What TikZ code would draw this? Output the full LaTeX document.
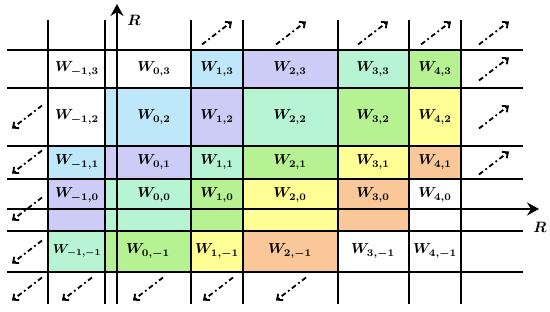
\documentclass[tikz,border=0pt]{standalone}
\usetikzlibrary{arrows.meta}
\definecolor{cblue}{RGB}{190,232,250}
\definecolor{cpurp}{RGB}{204,204,246}
\definecolor{cmint}{RGB}{182,244,212}
\definecolor{cgreen}{RGB}{182,242,146}
\definecolor{cyell}{RGB}{255,255,150}
\definecolor{corng}{RGB}{250,200,152}
\tikzset{
  gridline/.style={line width=1.7pt, black},
  axisline/.style={line width=1.7pt, black, -{Stealth[length=12pt,width=13pt,inset=4pt]}},
  darr/.style={line width=1.8pt, dash pattern=on 5pt off 3pt on 1.8pt off 3pt, -{Straight Barb[length=4.5pt,width=8pt]}},
  lblbase/.style={font=\boldmath, inner sep=0pt},
  lbl/.style={lblbase, scale=1.45},
}
\begin{document}
\begin{tikzpicture}[x=1pt,y=-1pt]
\useasboundingbox (0,0) rectangle (550,312);
% row 3
\fill[cblue]  (191,50) rectangle (243,88);
\fill[cpurp]  (243,50) rectangle (338,88);
\fill[cmint]  (338,50) rectangle (409,88);
\fill[cgreen] (409,50) rectangle (461,88);
% row 2
\fill[cblue]  (105,88) rectangle (191,146);
\fill[cpurp]  (191,88) rectangle (243,146);
\fill[cmint]  (243,88) rectangle (338,146);
\fill[cgreen] (338,88) rectangle (409,146);
\fill[cyell]  (409,88) rectangle (461,146);
% row 1
\fill[cblue]  (48,146) rectangle (105,179);
\fill[cpurp]  (105,146) rectangle (191,179);
\fill[cmint]  (191,146) rectangle (243,179);
\fill[cgreen] (243,146) rectangle (338,179);
\fill[cyell]  (338,146) rectangle (409,179);
\fill[corng]  (409,146) rectangle (461,179);
% row 0
\fill[cpurp]  (48,179) rectangle (105,231);
\fill[cmint]  (105,179) rectangle (191,231);
\fill[cgreen] (191,179) rectangle (243,231);
\fill[cyell]  (243,179) rectangle (338,231);
\fill[corng]  (338,179) rectangle (409,231);
% row -1
\fill[cmint]  (48,231) rectangle (105,272);
\fill[cgreen] (105,231) rectangle (191,272);
\fill[cyell]  (191,231) rectangle (243,272);
\fill[corng]  (243,231) rectangle (338,272);
% grid lines
\foreach \y in {50,88,146,179,231,272} \draw[gridline] (7,\y) -- (523,\y);
\foreach \x in {48,105,191,243,338,409,461} \draw[gridline] (\x,20) -- (\x,304);
% axes
\coordinate (xs) at (7,209); \coordinate (xe) at (539,209);
\coordinate (ys) at (117,304); \coordinate (ye) at (117,4);
\draw[axisline] (xs) -- (xe);
\draw[axisline] (ys) -- (ye);
\node[lblbase, scale=1.5] (ry) at (134,20) {$R$};
\node[lblbase, scale=1.5] (rx) at (540,227) {$R$};
% labels
\node[lbl] (w-13) at (77,69) {$W_{-1,3}$};
\node[lbl] (w03) at (154,69) {$W_{0,3}$};
\node[lbl] (w13) at (217,69) {$W_{1,3}$};
\node[lbl] (w23) at (290,69) {$W_{2,3}$};
\node[lbl] (w33) at (373,69) {$W_{3,3}$};
\node[lbl] (w43) at (435,69) {$W_{4,3}$};
\node[lbl] (w-12) at (77,117) {$W_{-1,2}$};
\node[lbl] (w02) at (154,117) {$W_{0,2}$};
\node[lbl] (w12) at (217,117) {$W_{1,2}$};
\node[lbl] (w22) at (290,117) {$W_{2,2}$};
\node[lbl] (w32) at (373,117) {$W_{3,2}$};
\node[lbl] (w42) at (435,117) {$W_{4,2}$};
\node[lbl] (w-11) at (77,162) {$W_{-1,1}$};
\node[lbl] (w01) at (154,162) {$W_{0,1}$};
\node[lbl] (w11) at (217,162) {$W_{1,1}$};
\node[lbl] (w21) at (290,162) {$W_{2,1}$};
\node[lbl] (w31) at (373,162) {$W_{3,1}$};
\node[lbl] (w41) at (435,162) {$W_{4,1}$};
\node[lbl] (w-10) at (77,195) {$W_{-1,0}$};
\node[lbl] (w00) at (154,195) {$W_{0,0}$};
\node[lbl] (w10) at (217,195) {$W_{1,0}$};
\node[lbl] (w20) at (290,195) {$W_{2,0}$};
\node[lbl] (w30) at (373,195) {$W_{3,0}$};
\node[lbl] (w40) at (435,195) {$W_{4,0}$};
\node[lblbase, scale=1.3] (w-1-1) at (77,251) {$W_{-1,-1}$};
\node[lbl] (w0-1) at (148,251) {$W_{0,-1}$};
\node[lbl] (w1-1) at (217,251) {$W_{1,-1}$};
\node[lbl] (w2-1) at (290,251) {$W_{2,-1}$};
\node[lbl] (w3-1) at (373,251) {$W_{3,-1}$};
\node[lbl] (w4-1) at (435,251) {$W_{4,-1}$};
% outward arrows (up-right)
\foreach \cx/\cy in {217/33, 291/33, 373/33, 436/33, 494/33, 494/69, 494/117, 494/163}
  \draw[darr] (\cx-15,\cy+11.5) -- (\cx+15,\cy-11.5);
% outward arrows (down-left)
\foreach \cx/\cy in {27/117, 27/162, 27/209, 27/252, 27/289, 77/289, 148/289, 218/289, 291/289}
  \draw[darr] (\cx+15,\cy-11.5) -- (\cx-15,\cy+11.5);
\end{tikzpicture}
\end{document}
